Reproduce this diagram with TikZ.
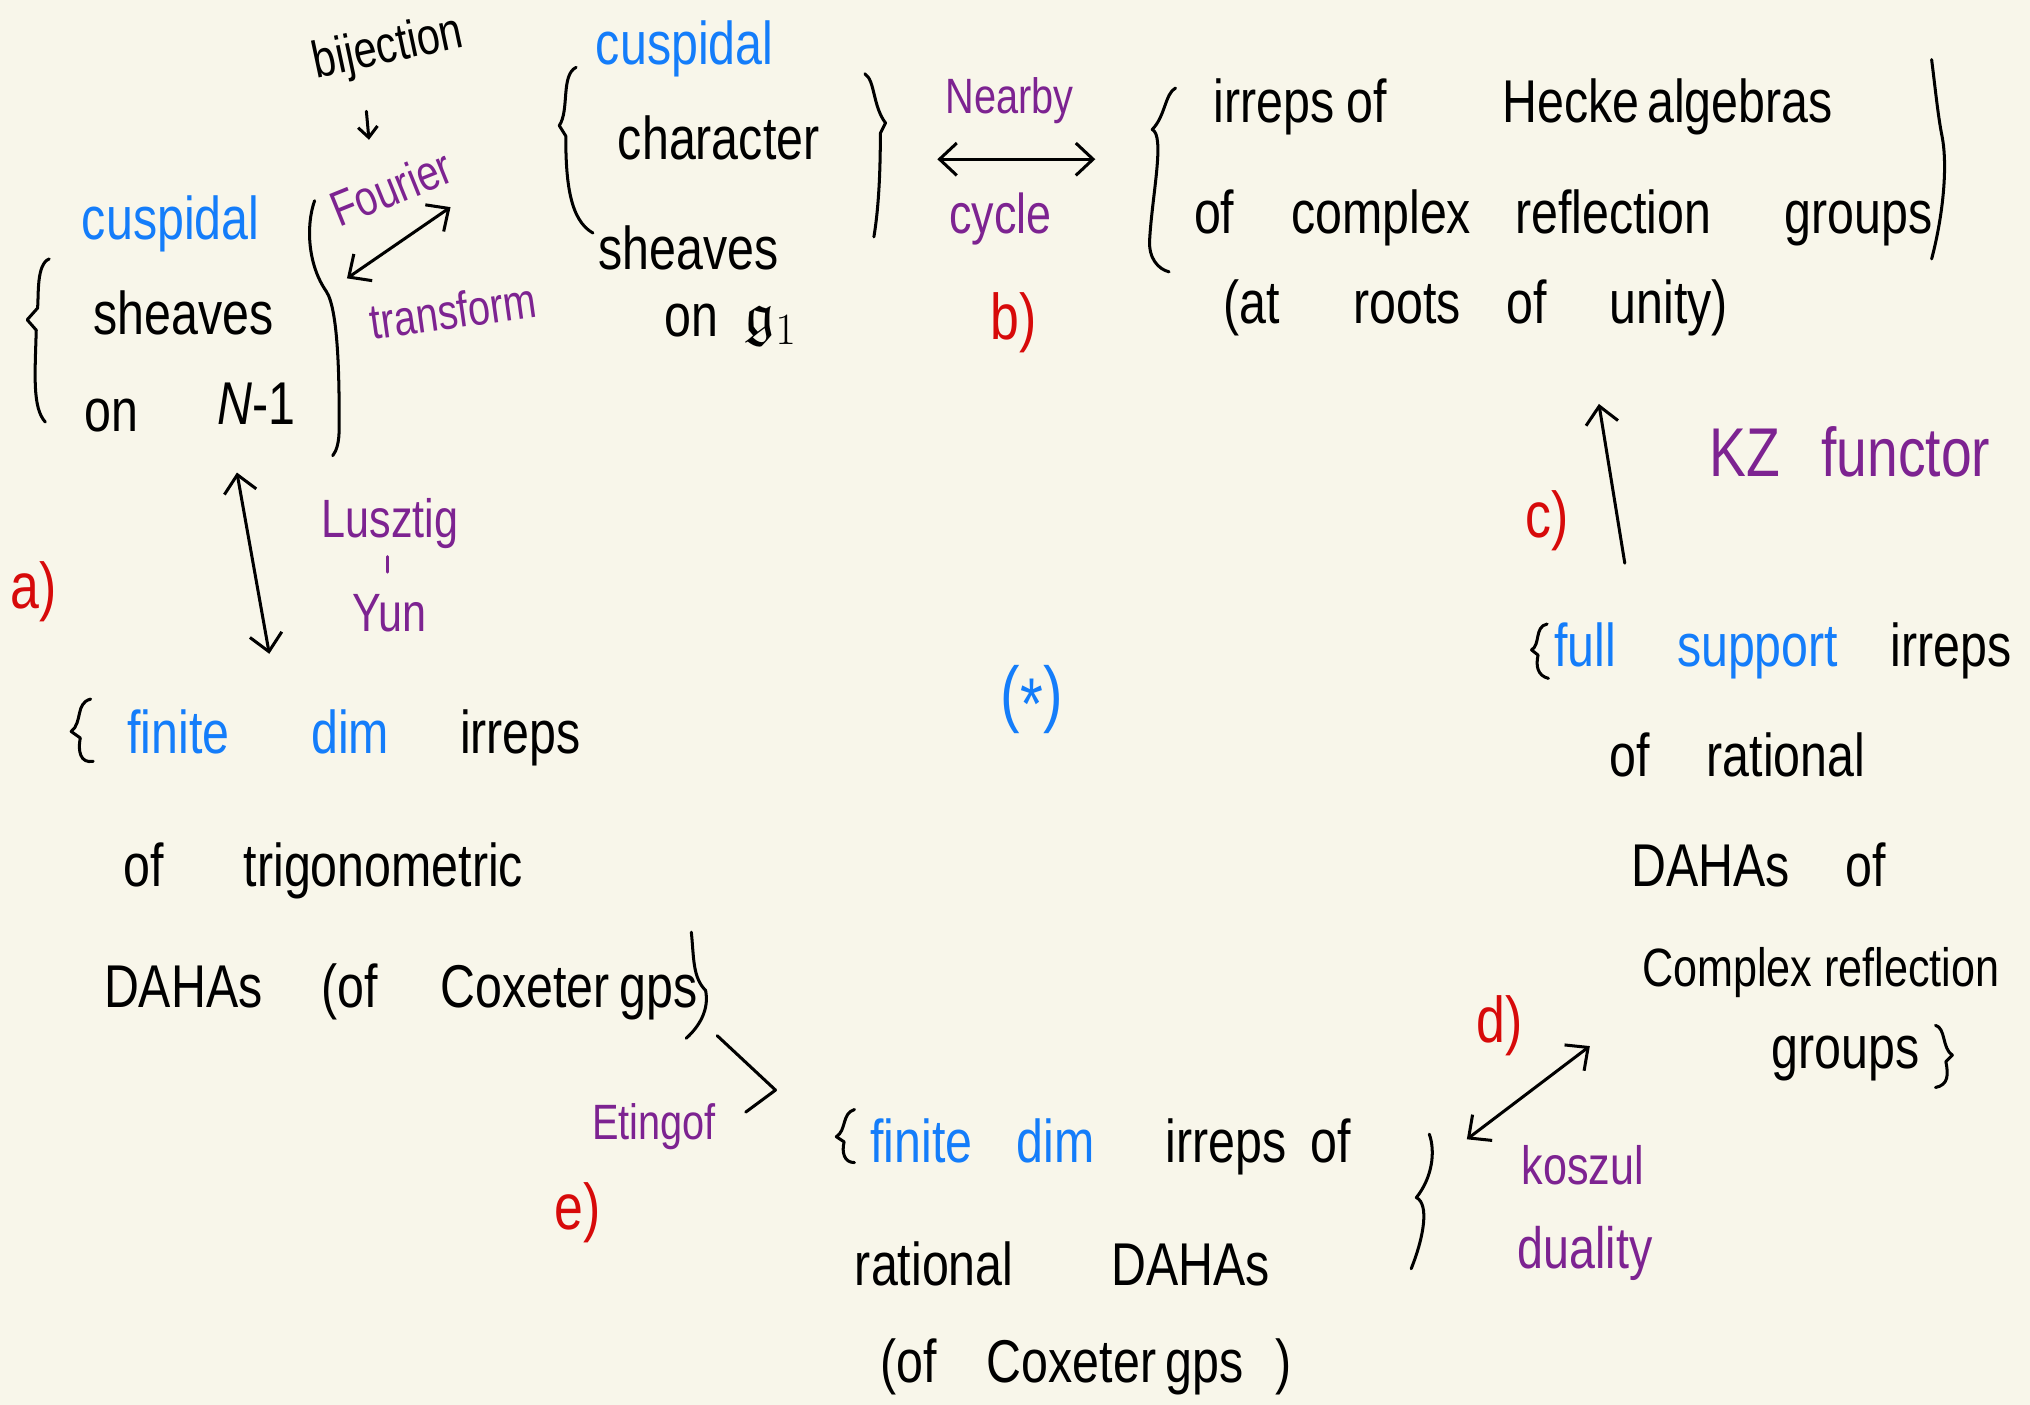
\documentclass[tikz,border=0pt]{standalone}
\usepackage{amssymb}
\usepackage{fontspec}
\setmainfont{Liberation Sans}[FakeStretch=0.8]
\usetikzlibrary{arrows.meta}
\definecolor{paper}{RGB}{248,246,234}
\definecolor{hblue}{RGB}{20,125,250}
\definecolor{hpurple}{RGB}{125,35,145}
\definecolor{hred}{RGB}{215,10,10}
\tikzset{
  w/.style={font=\fontsize{28}{30}\selectfont, inner sep=0pt, anchor=base west},
  wb/.style={w, text=hblue},
  lab/.style={font=\fontsize{23}{25}\selectfont, text=hpurple, inner sep=0pt, anchor=base west},
  tag/.style={font=\fontsize{30}{32}\selectfont, text=hred, inner sep=0pt, anchor=base west},
  stroke/.style={line width=1.4pt, line cap=round, line join=round},
  >={Straight Barb[length=8pt,width=15pt]},
}
\begin{document}
\begin{tikzpicture}[x=0.6pt,y=-0.6pt]
\fill[paper] (0,0) rectangle (1568,1085);
\useasboundingbox (0,0) rectangle (1568,1085);

% ---- cuspidal sheaves on N-1
\node[wb] (lcusp) at (63,185) {cuspidal};
\node[w] (lsheaves) at (72,258) {sheaves};
\node[w] (lon) at (65,333) {on};
\node[w] (lN) at (168,328) {\textit{N}-1};
\draw[stroke] (38,200) .. controls (28,204) and (30,228) .. (29,238) -- (21,247) -- (28,255) .. controls (27,290) and (25,315) .. (35,326);
\draw[stroke] (243,155) .. controls (236,175) and (238,205) .. (252,225) .. controls (262,240) and (262,300) .. (262,330) .. controls (262,342) and (260,348) .. (257,352);

% ---- Fourier transform
\node[font=\fontsize{24}{26}\selectfont, rotate=12, inner sep=0pt] (bij) at (300,38) {bijection};
\coordinate (bijA) at (283,86);
\coordinate (bijB) at (285,108);
\draw[stroke, -{Straight Barb[length=5pt,width=9pt]}] (bijA) -- (bijB);
\node[lab, anchor=center, rotate=22] (fourier) at (302,145) {Fourier};
\node[lab, anchor=center, rotate=8] (transform) at (350,240) {transform};
\coordinate (fa) at (268,215);
\coordinate (fb) at (348,160);
\draw[stroke, <->] (fa) -- (fb);

% ---- cuspidal character sheaves on g_1
\node[wb] (mcusp) at (460,50) {cuspidal};
\node[w] (mchar) at (477,123) {character};
\node[w] (msheaves) at (462,208) {sheaves};
\node[w] (mon) at (513,260) {on};
\node[w] (mg) at (575,258) {$\mathfrak{g}_1$};
\draw[stroke] (445,52) .. controls (433,58) and (440,85) .. (432,97) -- (437,105) .. controls (437,140) and (440,170) .. (458,180);
\draw[stroke] (668,57) .. controls (676,62) and (674,82) .. (684,95) -- (680,103) .. controls (680,140) and (678,165) .. (675,183);

% ---- nearby cycle
\node[lab] (nearby) at (730,88) {Nearby};
\node[lab, font=\fontsize{26}{28}\selectfont] (cycle) at (733,180) {cycle};
\node[tag] (tb) at (765,262) {b)};
\coordinate (na) at (724,123);
\coordinate (nb) at (846,123);
\draw[stroke, <->] (na) -- (nb);

% ---- irreps of Hecke algebras
\node[w] (h1) at (937,95) {irreps};
\node[w] (h2) at (1040,95) {of};
\node[w] (h3) at (1160,95) {Hecke};
\node[w] (h4) at (1272,95) {algebras};
\node[w] (h5) at (922,180) {of};
\node[w] (h6) at (997,180) {complex};
\node[w] (h7) at (1170,180) {reflection};
\node[w] (h8) at (1378,180) {groups};
\node[w] (h9) at (945,250) {(at};
\node[w] (h10) at (1045,250) {roots};
\node[w] (h11) at (1163,250) {of};
\node[w] (h12) at (1243,250) {unity)};
\draw[stroke] (908,68) .. controls (900,72) and (900,90) .. (890,100) .. controls (900,105) and (890,150) .. (888,185) .. controls (887,200) and (895,208) .. (903,210);
\draw[stroke] (1492,46) .. controls (1495,70) and (1497,90) .. (1500,105) .. controls (1505,130) and (1500,170) .. (1492,200);

% ---- KZ functor
\node[lab, font=\fontsize{32}{34}\selectfont] (kz) at (1320,368) {KZ\hspace{0.6em}functor};
\node[tag] (tc) at (1178,415) {c)};
\coordinate (ka) at (1255,435);
\coordinate (kb) at (1235,312);
\draw[stroke, ->] (ka) -- (kb);

% ---- full support irreps of rational DAHAs
\draw[stroke] (1195,482) .. controls (1185,484) and (1190,498) .. (1183,502) -- (1188,506) .. controls (1186,515) and (1188,522) .. (1196,524);
\node[wb] (r1) at (1200,515) {full};
\node[wb] (r2) at (1295,515) {support};
\node[w] (r3) at (1460,515) {irreps};
\node[w] (r4) at (1243,600) {of};
\node[w] (r5) at (1318,600) {rational};
\node[w] (r6) at (1260,685) {DAHAs};
\node[w] (r7) at (1425,685) {of};
\node[w, font=\fontsize{25}{27}\selectfont] (r8) at (1268,762) {Complex reflection};
\node[w] (r9) at (1368,825) {groups};
\draw[stroke] (1495,792) .. controls (1503,794) and (1500,810) .. (1508,815) -- (1503,820) .. controls (1505,830) and (1505,838) .. (1495,840);

% ---- Koszul duality
\node[tag] (td) at (1140,805) {d)};
\node[lab, font=\fontsize{25}{27}\selectfont] (koszul) at (1175,915) {koszul};
\node[lab, font=\fontsize{27}{29}\selectfont] (duality) at (1172,980) {duality};
\coordinate (da) at (1133,880);
\coordinate (db) at (1228,808);
\draw[stroke, <->] (da) -- (db);

% ---- finite dim irreps of rational DAHAs
\draw[stroke] (660,857) .. controls (650,860) and (654,873) .. (646,878) -- (652,882) .. controls (650,890) and (652,898) .. (660,898);
\node[wb] (b1) at (672,898) {finite};
\node[wb] (b2) at (785,898) {dim};
\node[w] (b3) at (900,898) {irreps};
\node[w] (b4) at (1012,898) {of};
\node[w] (b5) at (660,993) {rational};
\node[w] (b6) at (858,993) {DAHAs};
\node[w] (b7) at (680,1068) {(of};
\node[w] (b8) at (762,1068) {Coxeter};
\node[w] (b9) at (900,1068) {gps};
\node[w] (b10) at (985,1068) {)};
\draw[stroke] (1104,876) .. controls (1109,890) and (1106,910) .. (1094,925) .. controls (1104,930) and (1100,955) .. (1090,980);

% ---- star
\node[font=\fontsize{34}{36}\selectfont, text=hblue, inner sep=0pt] (star) at (797,540) {(\raisebox{-0.3ex}{*})};

% ---- finite dim irreps of trigonometric DAHAs
\draw[stroke] (70,540) .. controls (58,543) and (64,558) .. (55,565) -- (62,570) .. controls (60,580) and (62,590) .. (72,588);
\node[wb] (t1) at (98,582) {finite};
\node[wb] (t2) at (240,582) {dim};
\node[w] (t3) at (355,582) {irreps};
\node[w] (t4) at (95,685) {of};
\node[w] (t5) at (188,685) {trigonometric};
\node[w] (t6) at (80,778) {DAHAs};
\node[w] (t7) at (248,778) {(of};
\node[w] (t8) at (340,778) {Coxeter};
\node[w] (t9) at (478,778) {gps};
\draw[stroke] (534,720) .. controls (536,740) and (535,755) .. (545,765) .. controls (548,780) and (540,793) .. (530,802);

% ---- Lusztig-Yun
\node[tag] (ta) at (8,470) {a)};
\node[lab, font=\fontsize{25}{27}\selectfont] (lusztig) at (248,415) {Lusztig};
\draw[stroke, hpurple] (299,430) -- (299,442);
\node[lab, font=\fontsize{25}{27}\selectfont] (yun) at (272,488) {Yun};
\coordinate (la) at (183,365);
\coordinate (lb) at (208,505);
\draw[stroke, <->] (la) -- (lb);

% ---- Etingof
\node[lab] (etingof) at (457,880) {Etingof};
\node[tag] (te) at (428,950) {e)};
\coordinate (ea) at (554,800);
\coordinate (eb) at (599,842);
\coordinate (ec) at (576,859);
\draw[stroke] (ea) -- (eb) -- (ec);
\end{tikzpicture}
\end{document}
